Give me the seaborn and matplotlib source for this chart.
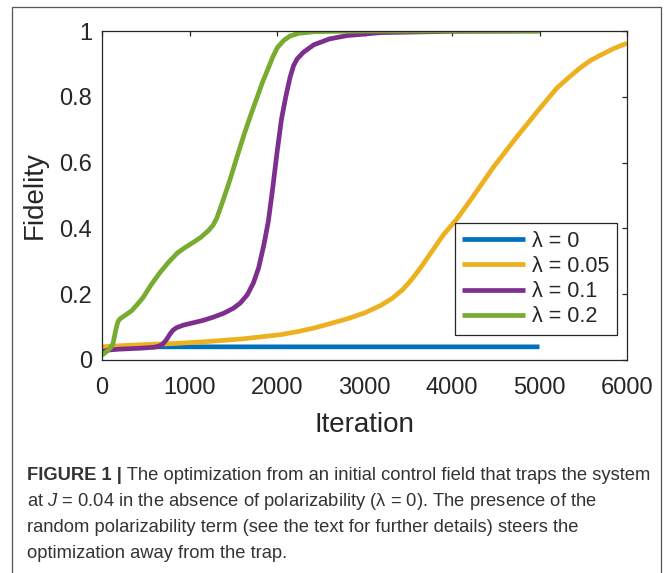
import matplotlib
matplotlib.use("Agg")
import matplotlib.pyplot as plt
import matplotlib.patches as mpatches
import numpy as np
import pandas as pd
import seaborn as sns

# ---------------- data ----------------
labels = ["λ = 0", "λ = 0.05", "λ = 0.1", "λ = 0.2"]
colors = ["#0072BD", "#EDB120", "#7E2F8E", "#77AC30"]

it_l0 = [0, 40, 100, 5000]
f_l0 = [0.015, 0.035, 0.04, 0.04]

it_l005 = [0, 250, 500, 815, 1200, 1600, 2040, 2230, 2420, 2600, 2800, 3000,
           3180, 3320, 3440, 3540, 3640, 3770, 3900, 4060, 4230, 4470, 4740,
           5005, 5200, 5340, 5460, 5580, 5700, 5850, 6000]
f_l005 = [0.04, 0.044, 0.047, 0.05, 0.056, 0.064, 0.077, 0.086, 0.097, 0.11,
          0.125, 0.143, 0.165, 0.188, 0.215, 0.245, 0.28, 0.33, 0.38, 0.43,
          0.493, 0.585, 0.678, 0.765, 0.827, 0.86, 0.887, 0.91, 0.927, 0.947,
          0.963]

it_l01 = [0, 30, 60, 200, 450, 600, 660, 700, 740, 780, 810, 850, 930, 1040,
          1150, 1270, 1390, 1500, 1580, 1660, 1730, 1790, 1850, 1900, 1950,
          2000, 2050, 2100, 2150, 2190, 2230, 2300, 2420, 2600, 2800, 3180,
          4000, 5000]
f_l01 = [0.02, 0.027, 0.03, 0.033, 0.036, 0.039, 0.043, 0.05, 0.063, 0.08,
         0.09, 0.098, 0.106, 0.113, 0.12, 0.13, 0.142, 0.157, 0.173, 0.198,
         0.234, 0.28, 0.35, 0.42, 0.52, 0.63, 0.73, 0.80, 0.86, 0.895, 0.915,
         0.935, 0.958, 0.976, 0.986, 0.995, 0.999, 1.0]

it_l02 = [0, 50, 100, 126, 140, 155, 170, 185, 210, 260, 340, 400, 470, 560,
          660, 760, 860, 950, 1040, 1130, 1215, 1270, 1315, 1350, 1390, 1465,
          1540, 1615, 1700, 1775, 1835, 1890, 1950, 2005, 2080, 2150, 2250,
          2430, 3000, 5000]
f_l02 = [0.015, 0.025, 0.038, 0.05, 0.068, 0.088, 0.105, 0.118, 0.126, 0.135,
         0.15, 0.168, 0.19, 0.228, 0.265, 0.297, 0.325, 0.342, 0.357, 0.373,
         0.393, 0.41, 0.433, 0.46, 0.49, 0.55, 0.615, 0.678, 0.745, 0.80,
         0.845, 0.88, 0.92, 0.95, 0.972, 0.985, 0.993, 0.998, 1.0, 1.0]

x_ticks = [0, 1000, 2000, 3000, 4000, 5000, 6000]
x_ticklabels = ["0", "1000", "2000", "3000", "4000", "5000", "6000"]
y_ticks = [0, 0.2, 0.4, 0.6, 0.8, 1.0]
y_ticklabels = ["0", "0.2", "0.4", "0.6", "0.8", "1"]

caption_bold = "FIGURE 1 |"
caption_line1 = " The optimization from an initial control field that traps the system"
caption_lines = [
    "at $J$ = 0.04 in the absence of polarizability (λ = 0). The presence of the",
    "random polarizability term (see the text for further details) steers the",
    "optimization away from the trap.",
]

# ---------------- build table ----------------
frames = []
for lab, xs, ys in zip(labels, [it_l0, it_l005, it_l01, it_l02],
                       [f_l0, f_l005, f_l01, f_l02]):
    frames.append(pd.DataFrame({"Iteration": xs, "Fidelity": ys, "series": lab}))
df = pd.concat(frames, ignore_index=True)

# ---------------- style ----------------
sns.set_style("white")
plt.rcParams["font.family"] = ["Liberation Sans", "DejaVu Sans"]
plt.rcParams["mathtext.fontset"] = "custom"
plt.rcParams["mathtext.it"] = "Liberation Sans:italic"
plt.rcParams["mathtext.rm"] = "Liberation Sans"

W, H = 670, 573
fig = plt.figure(figsize=(W / 100, H / 100), dpi=100)
fig.patch.set_facecolor("white")

# outer frame
fig.patches.append(mpatches.Rectangle((12 / W, -0.05), (661 - 12) / W, (H - 7) / H + 0.05,
                                      transform=fig.transFigure, fill=False,
                                      edgecolor="#555555", linewidth=0.9))

ax_l, ax_r, ax_t, ax_b = 102, 627, 31, 360
ax = fig.add_axes([ax_l / W, (H - ax_b) / H, (ax_r - ax_l) / W, (ax_b - ax_t) / H])

sns.lineplot(data=df, x="Iteration", y="Fidelity", hue="series",
             palette=dict(zip(labels, colors)), hue_order=labels,
             estimator=None, sort=False, linewidth=3.4, ax=ax)
for ln in ax.get_lines():
    ln.set_solid_joinstyle("round")
    ln.set_solid_capstyle("butt")

ax.set_xlim(0, 6000)
ax.set_ylim(0, 1)
ax.set_xticks(x_ticks)
ax.set_xticklabels(x_ticklabels)
ax.set_yticks(y_ticks)
ax.set_yticklabels(y_ticklabels)

axis_col = "#262626"
for s in ax.spines.values():
    s.set_visible(True)
    s.set_color(axis_col)
    s.set_linewidth(0.9)
ax.tick_params(direction="in", top=True, right=True, length=3.5, width=0.9,
               color=axis_col, labelcolor=axis_col, labelsize=17)
ax.tick_params(axis="x", pad=12)
ax.tick_params(axis="y", pad=7)

ax.set_xlabel("Iteration", fontsize=20, color=axis_col, va="center")
ax.set_ylabel("Fidelity", fontsize=20, color=axis_col, va="center")
ax.xaxis.set_label_coords(0.5, (ax_b - 425) / (ax_b - ax_t))
ax.yaxis.set_label_coords((35 - ax_l) / (ax_r - ax_l), 0.5)

leg = ax.legend(loc="upper right", bbox_to_anchor=((617 - ax_l) / (ax_r - ax_l),
                                                  (ax_b - 223) / (ax_b - ax_t)),
                borderaxespad=0, fontsize=15.5, frameon=True, fancybox=False,
                framealpha=1, edgecolor=axis_col, handlelength=2.9,
                handletextpad=0.35, labelspacing=0.2, borderpad=0.35)
leg.get_frame().set_linewidth(0.9)
for t in leg.get_texts():
    t.set_color(axis_col)
for h in leg.get_lines():
    h.set_linewidth(3.4)

# ---------------- caption ----------------
cap_col = "#333333"
cap_fs = 13.2
cap_fam = ["Liberation Sans", "DejaVu Sans"]
y0 = 476
t1 = fig.text(27 / W, (H - y0) / H, caption_bold, fontsize=cap_fs, fontweight="bold",
              color=cap_col, va="center", ha="left", family=cap_fam)
ax.annotate(caption_line1, xy=(1, 0.5), xycoords=t1, va="center", ha="left",
            fontsize=cap_fs, color=cap_col, family=cap_fam, annotation_clip=False)
for i, line in enumerate(caption_lines):
    fig.text(27 / W, (H - (y0 + 25.7 * (i + 1))) / H, line, fontsize=cap_fs,
             color=cap_col, va="center", ha="left", family=cap_fam)

fig.savefig("out.png", dpi=100)
